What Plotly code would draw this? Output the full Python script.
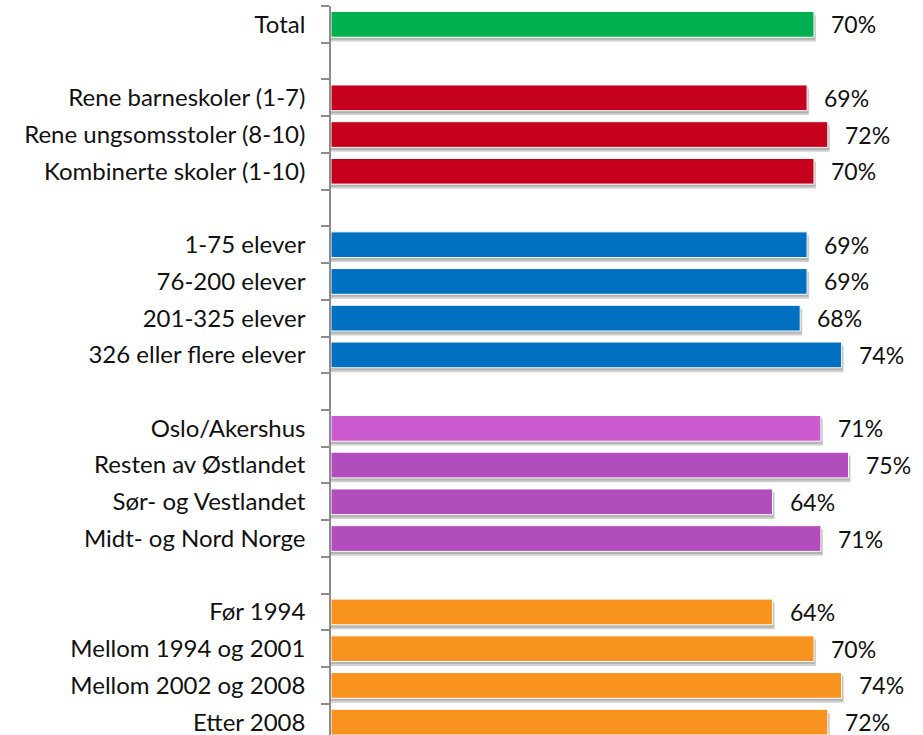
import plotly.graph_objects as go

# Survey share per school group (percent); None entries are the gaps between groups
categories = [
    "Total", None,
    "Rene barneskoler (1-7)", "Rene ungsomsstoler (8-10)", "Kombinerte skoler (1-10)", None,
    "1-75 elever", "76-200 elever", "201-325 elever", "326 eller flere elever", None,
    "Oslo/Akershus", "Resten av Østlandet", "Sør- og Vestlandet", "Midt- og Nord Norge", None,
    "Før 1994", "Mellom 1994 og 2001", "Mellom 2002 og 2008", "Etter 2008",
]
values = [
    70, None,
    69, 72, 70, None,
    69, 69, 68, 74, None,
    71, 75, 64, 71, None,
    64, 70, 74, 72,
]

GREEN, RED, BLUE = "#00B050", "#C5001C", "#0070C0"
LILAC, PURPLE, ORANGE = "#CC5AD0", "#B24DBE", "#F7931E"
colors = [
    GREEN, None,
    RED, RED, RED, None,
    BLUE, BLUE, BLUE, BLUE, None,
    LILAC, PURPLE, PURPLE, PURPLE, None,
    ORANGE, ORANGE, ORANGE, ORANGE,
]

rows = [(i, c, v, col) for i, (c, v, col) in enumerate(zip(categories, values, colors)) if v is not None]
pos = [r[0] for r in rows]
names = [r[1] for r in rows]
vals = [r[2] for r in rows]
cols = [r[3] for r in rows]

fig = go.Figure()

# soft drop shadow under each bar
fig.add_trace(go.Bar(
    y=pos, x=[v + 0.3 for v in vals], orientation="h",
    width=0.72, offset=-0.25,
    marker=dict(color="rgba(90,90,90,0.28)", line=dict(width=0)),
    hoverinfo="skip", showlegend=False,
))
fig.add_trace(go.Bar(
    y=pos, x=[v + 0.15 for v in vals], orientation="h",
    width=0.72, offset=-0.3,
    marker=dict(color="rgba(90,90,90,0.25)", line=dict(width=0)),
    hoverinfo="skip", showlegend=False,
))

# main bars
fig.add_trace(go.Bar(
    y=pos, x=vals, orientation="h", width=0.70,
    marker=dict(color=cols, line=dict(color="white", width=1)),
    hovertext=names, showlegend=False,
))

# value labels to the right of each bar
for p, v in zip(pos, vals):
    fig.add_annotation(
        x=v, y=p, text=f"{v}%", showarrow=False,
        xanchor="left", yanchor="middle", xshift=15, yshift=0,
        font=dict(family="Lato", size=23, color="#111111"),
    )

fig.update_layout(
    width=923, height=735,
    margin=dict(l=331, r=40, t=6, b=0),
    paper_bgcolor="white", plot_bgcolor="white",
    barmode="overlay",
    font=dict(family="Lato", size=24, color="#111111"),
    xaxis=dict(visible=False, range=[0, 80], fixedrange=True),
    yaxis=dict(
        range=[19.35, -0.5],
        tickmode="array", tickvals=pos, ticktext=names, ticks="",
        ticklabeloverflow="allow",
        minor=dict(
            tickmode="array", tickvals=[i - 0.5 for i in range(len(categories) + 1)],
            ticks="outside", ticklen=8, tickwidth=1.5, tickcolor="#8c8c8c",
            showgrid=False,
        ),
        showline=True, linecolor="#8c8c8c", linewidth=1.5,
        showgrid=False, zeroline=False, ticklabelstandoff=19,
        tickfont=dict(family="Lato", size=24, color="#111111"),
    ),
)

fig.write_html("out.html")
